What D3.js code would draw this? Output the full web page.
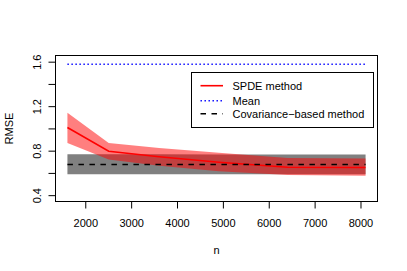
<!DOCTYPE html>
<html><head><meta charset="utf-8">
<script src="https://cdn.jsdelivr.net/npm/d3@7"></script>
<style>body{margin:0;background:#fff}svg{display:block}text{font-family:"Liberation Sans",Arial,sans-serif}</style>
</head><body>
<script>
const nVals = [1600, 2500, 3600, 4900, 6400, 8100];
const spdeMean = [1.013, 0.799, 0.75, 0.70, 0.655, 0.653];
const spdeUpper = [1.145, 0.874, 0.828, 0.785, 0.738, 0.735];
const spdeLower = [0.874, 0.725, 0.67, 0.62, 0.585, 0.58];
const covMean = [0.68, 0.68, 0.68, 0.68, 0.68, 0.68];
const covUpper = [0.772, 0.772, 0.772, 0.771, 0.771, 0.771];
const covLower = [0.592, 0.592, 0.592, 0.592, 0.592, 0.592];
const meanVals = [1.582, 1.582, 1.582, 1.582, 1.582, 1.582];
const xTicks = [2000, 3000, 4000, 5000, 6000, 7000, 8000];
const yTicks = [0.4, 0.6, 0.8, 1.0, 1.2, 1.4, 1.6];
const yLabels = [0.4, 0.8, 1.2, 1.6];
const legendLabels = ["SPDE method", "Mean", "Covariance\u2212based method"];

const W = 407, H = 271;
const svg = d3.select("body").append("svg").attr("width", W).attr("height", H);
const L = 55.5, R = 377.5, T = 55.5, B = 201.5;
const x = d3.scaleLinear().domain([1340, 8360]).range([L, R]);
const y = d3.scaleLinear().domain([0.3475, 1.66]).range([B, T]);

const idx = d3.range(nVals.length);
const area = (up, lo) => d3.area().x(i => x(nVals[i])).y0(i => y(lo[i])).y1(i => y(up[i]));
const line = v => d3.line().x(i => x(nVals[i])).y(i => y(v[i]));

svg.append("path").attr("d", area(covUpper, covLower)(idx)).attr("fill", "#808080");
svg.append("path").attr("d", area(spdeUpper, spdeLower)(idx)).attr("fill", "rgba(255,0,0,0.5)");
svg.append("path").attr("d", line(spdeMean)(idx)).attr("fill", "none").attr("stroke", "#ff0000").attr("stroke-width", 1.6);
svg.append("path").attr("d", line(covMean)(idx)).attr("fill", "none").attr("stroke", "#000").attr("stroke-width", 1.6).attr("stroke-dasharray", "5.5,5.5");
svg.append("path").attr("d", line(meanVals)(idx)).attr("fill", "none").attr("stroke", "#0000ff").attr("stroke-width", 1.4).attr("stroke-dasharray", "1.4,2.6");

// box
svg.append("rect").attr("x", L).attr("y", T).attr("width", R - L).attr("height", B - T).attr("fill", "none").attr("stroke", "#000").attr("stroke-width", 1);

// x axis
const xa = svg.append("g");
xTicks.forEach(t => {
  xa.append("line").attr("x1", x(t)).attr("x2", x(t)).attr("y1", B).attr("y2", B + 7).attr("stroke", "#000");
  xa.append("text").attr("x", x(t)).attr("y", 227).attr("text-anchor", "middle").attr("font-size", 11).text(t);
});
// y axis
yTicks.forEach(t => {
  svg.append("line").attr("x1", L - 7).attr("x2", L).attr("y1", y(t)).attr("y2", y(t)).attr("stroke", "#000");
});
yLabels.forEach(t => {
  svg.append("text").attr("transform", `translate(41,${y(t)}) rotate(-90)`).attr("text-anchor", "middle").attr("font-size", 11).text(t.toFixed(1));
});
svg.append("text").attr("x", (L + R) / 2).attr("y", 254).attr("text-anchor", "middle").attr("font-size", 11).text("n");
svg.append("text").attr("transform", `translate(13,${(T + B) / 2}) rotate(-90)`).attr("text-anchor", "middle").attr("font-size", 11).text("RMSE");

// legend
const lg = svg.append("g");
lg.append("rect").attr("x", 191.5).attr("y", 72.5).attr("width", 182).attr("height", 55).attr("fill", "#fff").attr("stroke", "#000");
const ly = [85.7, 100.7, 113.7];
const styles = [
  {c: "#ff0000", d: null, w: 1.6},
  {c: "#0000ff", d: "1.4,2.6", w: 1.4},
  {c: "#000", d: "5.5,5.5", w: 1.6}
];
legendLabels.forEach((s, i) => {
  const l = lg.append("line").attr("x1", 200.5).attr("x2", 223).attr("y1", ly[i]).attr("y2", ly[i]).attr("stroke", styles[i].c).attr("stroke-width", styles[i].w);
  if (styles[i].d) l.attr("stroke-dasharray", styles[i].d);
  lg.append("text").attr("x", 232.5).attr("y", ly[i] + 4).attr("font-size", 11).text(s);
});
</script>
</body></html>
